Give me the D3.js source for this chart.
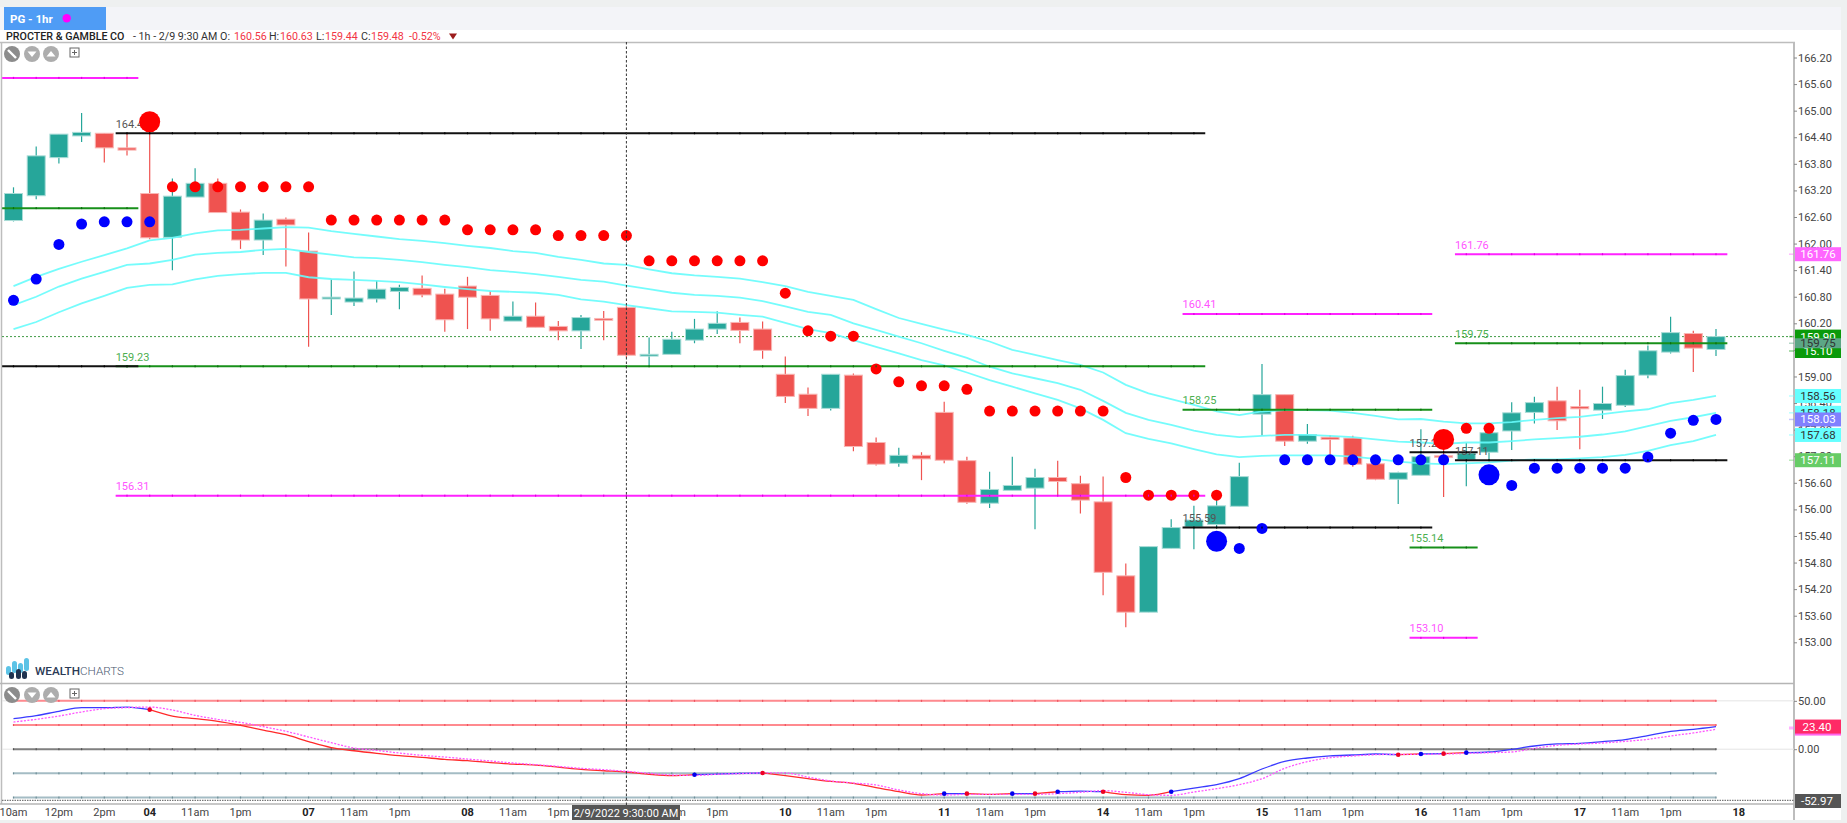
<!DOCTYPE html>
<html><head><meta charset="utf-8">
<script src="https://cdn.jsdelivr.net/npm/d3@7/dist/d3.min.js"></script>
<style>
html,body{margin:0;padding:0;background:#eef0f0;overflow:hidden}
svg{display:block}
text{font-family:Roboto,sans-serif}
</style></head><body>
<script>
const opens=[162.52,163.08,163.94,164.43,164.49,164.16,163.13,162.14,163.05,163.36,162.71,162.08,162.55,161.83,160.75,160.68,160.75,160.92,160.99,160.86,161.04,160.83,160.25,160.36,160.13,160.03,160.31,160.56,159.46,159.50,159.82,160.07,160.22,160.07,159.05,158.60,158.28,159.03,157.51,157.04,157.22,158.19,157.10,156.14,156.43,156.48,156.72,156.58,156.17,154.50,153.68,155.12,155.60,155.66,156.07,158.15,158.59,157.54,157.63,157.61,157.03,156.68,156.77,157.21,157.12,157.29,157.77,158.19,158.45,158.32,158.24,158.35,159.03,159.55,159.97,159.61];
const highs=[163.27,164.19,164.47,164.95,164.49,164.49,164.60,163.47,163.70,163.47,162.77,162.68,162.59,162.25,161.19,161.37,161.16,161.07,161.28,160.98,161.25,160.93,160.69,160.67,160.25,160.39,160.48,160.63,159.88,160.01,160.30,160.47,160.33,160.24,159.45,158.75,159.05,159.07,157.62,157.39,157.29,158.43,157.19,156.85,157.19,156.92,157.10,156.76,156.74,154.78,155.16,155.78,156.08,156.21,157.05,159.28,158.59,157.93,157.68,157.66,157.12,156.85,157.81,157.40,157.50,157.84,158.42,158.54,158.77,158.70,158.77,159.15,159.70,160.35,160.03,160.07];
const lows=[162.50,163.00,163.81,164.29,163.83,163.99,162.10,161.40,163.05,162.70,161.88,161.74,161.48,159.67,160.39,160.59,160.67,160.52,160.79,160.01,160.07,160.03,160.25,160.11,159.82,159.62,159.82,159.44,159.24,159.50,159.75,159.96,159.75,159.40,158.40,158.11,158.23,157.31,156.99,156.96,156.66,157.04,156.13,156.03,156.43,155.55,156.32,155.91,154.06,153.34,153.68,155.12,155.10,155.60,156.07,157.66,157.43,157.48,157.19,156.96,156.66,156.12,156.77,156.28,156.52,157.12,157.34,157.94,157.79,157.36,158.04,158.31,158.96,159.52,159.10,159.46];
const closes=[163.13,163.98,164.47,164.51,164.16,164.11,162.13,163.07,163.36,162.70,162.08,162.53,162.42,160.75,160.79,160.77,160.97,161.01,160.84,160.28,160.79,160.30,160.36,160.11,160.03,160.33,160.27,159.48,159.50,159.84,160.07,160.20,160.04,159.59,158.55,158.28,159.05,157.42,157.02,157.22,157.14,157.11,156.16,156.45,156.54,156.72,156.63,156.21,154.58,153.68,155.16,155.59,155.76,156.08,156.74,158.59,157.54,157.69,157.58,157.02,156.68,156.83,157.19,157.18,157.27,157.73,158.18,158.41,158.00,158.27,158.39,159.02,159.58,159.99,159.64,159.90];

const bandUpper=[161.04,161.25,161.43,161.59,161.74,161.89,162.07,162.13,162.23,162.30,162.31,162.34,162.37,162.36,162.28,162.22,162.16,162.10,162.06,162.01,161.95,161.90,161.83,161.79,161.70,161.63,161.55,161.52,161.42,161.33,161.28,161.25,161.21,161.13,161.04,160.91,160.82,160.73,160.52,160.32,160.19,160.06,159.94,159.79,159.60,159.49,159.37,159.26,159.09,158.81,158.62,158.49,158.36,158.21,158.13,158.21,158.24,158.24,158.23,158.18,158.11,158.03,158.04,157.98,157.94,157.94,157.97,158.02,158.06,158.09,158.15,158.21,158.26,158.40,158.47,158.56];
const bandMiddle=[160.61,160.80,161.03,161.21,161.36,161.52,161.55,161.63,161.75,161.79,161.81,161.86,161.88,161.81,161.75,161.69,161.67,161.63,161.58,161.52,161.47,161.40,161.36,161.31,161.25,161.18,161.14,161.05,160.97,160.89,160.84,160.82,160.78,160.70,160.58,160.46,160.39,160.20,160.05,159.90,159.75,159.58,159.42,159.22,159.07,158.96,158.85,158.70,158.45,158.18,158.02,157.91,157.78,157.68,157.63,157.66,157.68,157.68,157.66,157.63,157.58,157.53,157.51,157.48,157.51,157.51,157.54,157.58,157.61,157.64,157.69,157.76,157.88,158.00,158.08,158.18];
const bandLower=[160.07,160.23,160.45,160.65,160.82,161.00,161.07,161.08,161.19,161.27,161.31,161.34,161.34,161.24,161.20,161.18,161.16,161.13,161.08,161.02,160.97,160.93,160.91,160.89,160.84,160.74,160.69,160.61,160.54,160.47,160.46,160.44,160.39,160.35,160.21,160.07,159.98,159.82,159.67,159.52,159.37,159.25,159.09,158.92,158.77,158.62,158.47,158.28,158.02,157.72,157.59,157.49,157.36,157.24,157.18,157.21,157.22,157.22,157.22,157.19,157.14,157.08,157.04,157.02,157.04,157.06,157.10,157.13,157.13,157.15,157.18,157.23,157.32,157.45,157.54,157.68];

const redBars=[7,8,9,10,11,12,13,14,15,16,17,18,19,20,21,22,23,24,25,26,27,28,29,30,31,32,33,34,35,36,37,38,39,40,41,42,43,44,45,46,47,48,49,50,51,52,53,64,65];
const redPrices=[163.28,163.28,163.28,163.28,163.28,163.28,163.28,162.53,162.53,162.53,162.53,162.53,162.53,162.31,162.31,162.31,162.31,162.18,162.18,162.18,162.18,161.61,161.61,161.61,161.61,161.61,161.61,160.88,160.03,159.91,159.91,159.17,158.88,158.79,158.79,158.71,158.22,158.22,158.22,158.22,158.22,158.22,156.72,156.32,156.32,156.32,156.32,157.83,157.83];
const blueBars=[0,1,2,3,4,5,6,54,55,56,57,58,59,60,61,62,63,66,67,68,69,70,71,72,73,74,75];
const bluePrices=[160.72,161.20,161.98,162.44,162.49,162.49,162.49,155.12,155.57,157.12,157.12,157.12,157.12,157.12,157.12,157.12,157.12,156.54,156.93,156.93,156.93,156.93,156.93,157.18,157.72,158.01,158.03];
const bigRedBars=[6,63], bigRedPrices=[164.75,157.58];
const bigBlueBars=[53,65], bigBluePrices=[155.28,156.78];

const levelPrices=[165.74,162.80,159.23,159.23,164.49,156.31,160.41,158.25,155.59,157.29,157.11,155.14,153.10,159.75,161.76];
const levelStarts=[-0.5,-0.5,4.5,-0.5,4.5,4.5,51.5,51.5,51.5,61.5,63.5,61.5,61.5,63.5,63.5];
const levelEnds=[5.5,5.5,52.5,5.5,52.5,52.5,62.5,62.5,62.5,64.5,75.5,64.5,64.5,75.5,75.5];
const levelKinds=["m","g","g","k","k","m","m","g","k","k","k","g","m","g","m"];
const levelLabels=["","","159.23","","164.49","156.31","160.41","158.25","155.59","157.29","157.11","155.14","153.10","159.75","161.76"];

const priceTicks=[166.2,165.6,165,164.4,163.8,163.2,162.6,162,161.4,160.8,160.2,159.6,159,158.4,157.8,157.2,156.6,156,155.4,154.8,154.2,153.6,153];
const timeBars=[0,2,4,6,8,10,13,15,17,20,22,24,27,29,31,34,36,38,41,43,45,48,50,52,55,57,59,62,64,66,69,71,73,76];
const timeLabels=["10am","12pm","2pm","04","11am","1pm","07","11am","1pm","08","11am","1pm","09","11am","1pm","10","11am","1pm","11","11am","1pm","14","11am","1pm","15","11am","1pm","16","11am","1pm","17","11am","1pm","18"];
const dayLabels=["04","07","08","09","10","11","14","15","16","17","18"];

const oscMain=[31.6,34.7,39.2,43.0,43.0,43.6,40.9,34.3,31.6,28.8,24.7,19.8,15.0,7.8,1.6,-1.6,-4.3,-6.7,-8.5,-10.5,-11.9,-14.0,-15.4,-16.4,-18.5,-20.9,-22.3,-23.6,-26.0,-27.4,-26.4,-25.7,-25.0,-24.6,-27.4,-30.5,-33.3,-35.3,-39.8,-44.0,-47.4,-46.0,-46.0,-46.7,-46.0,-46.0,-44.0,-43.3,-44.0,-47.1,-47.7,-44.0,-40.2,-36.7,-30.5,-20.5,-12.6,-9.1,-7.0,-6.0,-5.0,-5.7,-5.0,-4.6,-3.6,-2.9,-0.1,3.3,5.4,6.1,7.8,9.9,14.0,18.5,20.6,23.4];
const oscSignal=[28.1,30.9,34.3,38.5,41.9,43.0,43.6,40.5,35.0,30.9,27.8,23.3,18.5,12.6,6.7,1.2,-1.2,-4.0,-6.4,-8.1,-10.2,-12.2,-14.3,-16.0,-17.8,-19.8,-21.2,-22.9,-25.0,-26.7,-27.1,-26.0,-25.3,-24.6,-24.6,-28.8,-32.9,-35.0,-37.0,-42.2,-46.0,-47.4,-46.7,-46.7,-46.7,-46.7,-46.0,-44.6,-42.9,-44.6,-47.1,-47.7,-44.3,-40.8,-36.7,-30.5,-19.8,-12.9,-8.8,-7.0,-5.7,-5.3,-5.3,-5.0,-4.3,-3.6,-2.9,0.9,4.0,5.4,6.4,8.1,10.2,13.7,16.8,20.6];
const oscCrossBars=[6,30,33,41,42,44,45,46,48,51,61,62,63,64];
const oscLevels=[50,25,0,-25,-50];
const oscLevelColors=["#ff8a8f","#ff8a8f","#808080","#a4bcc4","#a4bcc4"];
const oscLevelDots=["#ee5560","#ee5560","#555555","#6f8f98","#6f8f98"];

const W=1847,H=823;
const x=d3.scaleLinear().domain([0,75]).range([13.5,1716]);
const y=d3.scaleLinear().domain([153,166.2]).range([642.3,57.5]);
const yo=d3.scaleLinear().domain([-52.97,50]).range([800.4,700.85]);
const bars=d3.range(opens.length);
const UP="#26a69a",DOWN="#ef5350",CY="#66fcfc";
const kindColor={m:"#ff22ff",g:"#17901a",k:"#111111"};
const kindDot={m:"#e000e0",g:"#0c6b0e",k:"#000000"};
const kindText={m:"#ff55ff",g:"#4caf50",k:"#555555"};

const svg=d3.select("body").append("svg").attr("width",W).attr("height",H);
// frame
svg.append("rect").attr("width",W).attr("height",H).attr("fill","#eef0f0");
svg.append("rect").attr("x",0).attr("y",7).attr("width",1841).attr("height",23).attr("fill","#f3f4f8");
svg.append("rect").attr("x",0).attr("y",30).attr("width",1841).attr("height",790).attr("fill","#fff");
svg.append("rect").attr("x",4).attr("y",7).attr("width",102).attr("height",23).attr("fill","#4f9cf5");
svg.append("text").attr("x",10).attr("y",22.5).attr("fill","#fff").attr("font-size",11.5).attr("font-weight",700).text("PG - 1hr");
svg.append("circle").attr("cx",66.7).attr("cy",18.3).attr("r",4.2).attr("fill","#ff00ff");

// header text
const hdr=[[6,"PROCTER & GAMBLE CO","#222",500],[133,"- 1h - 2/9 9:30 AM O:","#333",400],[234,"160.56","#f23645",400],[269,"H:","#333",400],[280,"160.63","#f23645",400],[316,"L:","#333",400],[325,"159.44","#f23645",400],[361,"C:","#333",400],[371,"159.48","#f23645",400],[409,"-0.52%","#f23645",400]];
svg.append("g").selectAll("text").data(hdr).join("text").attr("x",d=>d[0]).attr("y",40).attr("font-size",10.7).attr("fill",d=>d[2]).attr("font-weight",d=>d[3]).text(d=>d[1]);
svg.append("path").attr("d","M449 33.5h8l-4 6z").attr("fill","#9c1c1c");

// frame lines
svg.append("path").attr("d","M0 42.5H1795").attr("stroke","#bdbdbd").attr("stroke-width",1.3).attr("fill","none");
svg.append("path").attr("d","M1.5 42V804").attr("stroke","#bdbdbd").attr("stroke-width",1.5);
svg.append("path").attr("d","M1794 42V820").attr("stroke","#bdbdbd").attr("stroke-width",2);
svg.append("path").attr("d","M0 683.5H1794").attr("stroke","#b5b5b5").attr("stroke-width",1.3);
svg.append("path").attr("d","M0 804H1794").attr("stroke","#b5b5b5").attr("stroke-width",1.3);

// price axis
const ax=svg.append("g").attr("transform","translate(1794,0)").call(d3.axisRight(y).tickValues(priceTicks).tickFormat(d3.format(".2f")).tickSize(3).tickPadding(1));
ax.select(".domain").remove();
ax.selectAll("line").attr("stroke","#888");
ax.selectAll("text").attr("font-size",11).attr("fill","#444").style("font-family","Roboto");

// dotted last price
svg.append("line").attr("x1",2).attr("x2",1794).attr("y1",y(closes[75])).attr("y2",y(closes[75])).attr("stroke","#3f9a45").attr("stroke-width",1).attr("stroke-dasharray","2 2");

// candles
const cg=svg.append("g");
cg.selectAll("line").data(bars).join("line")
  .attr("x1",i=>x(i)).attr("x2",i=>x(i)).attr("y1",i=>y(highs[i])).attr("y2",i=>y(lows[i]))
  .attr("stroke",i=>closes[i]>=opens[i]?UP:DOWN).attr("stroke-width",1.2);
cg.selectAll("rect").data(bars).join("rect")
  .attr("x",i=>x(i)-9).attr("width",18)
  .attr("y",i=>y(Math.max(opens[i],closes[i])))
  .attr("height",i=>Math.max(1.5,Math.abs(y(opens[i])-y(closes[i]))))
  .attr("fill",i=>closes[i]>=opens[i]?UP:DOWN)
  .attr("stroke",i=>closes[i]>=opens[i]?"#a9dcd7":"#f9b5b3").attr("stroke-width",1);

// bands
const bandLine=d3.line().x((d,i)=>x(i)).y(d=>y(d));
svg.append("g").selectAll("path").data([bandUpper,bandMiddle,bandLower]).join("path")
  .attr("d",bandLine).attr("fill","none").attr("stroke",CY).attr("stroke-opacity",.9).attr("stroke-width",1.8);

// levels
const levelIdx=d3.range(levelPrices.length);
svg.append("g").selectAll("line").data(levelIdx).join("line")
  .attr("x1",i=>x(levelStarts[i])).attr("x2",i=>x(levelEnds[i]))
  .attr("y1",i=>y(levelPrices[i])).attr("y2",i=>y(levelPrices[i]))
  .attr("stroke",i=>kindColor[levelKinds[i]]).attr("stroke-width",2);
svg.append("g").selectAll("text").data(levelIdx.filter(i=>levelLabels[i])).join("text")
  .attr("x",i=>x(levelStarts[i])).attr("y",i=>y(levelPrices[i])-9.5).attr("dy","0.35em")
  .attr("font-size",11).attr("fill",i=>kindText[levelKinds[i]]).text(i=>levelLabels[i]);

// dots
function dots(b,p,r,c){svg.append("g").selectAll("circle").data(b).join("circle")
  .attr("cx",d=>x(d)).attr("cy",(d,i)=>y(p[i])).attr("r",r).attr("fill",c);}
dots(redBars,redPrices,5.5,"#ff0000");
dots(blueBars,bluePrices,5.5,"#0000ff");
dots(bigRedBars,bigRedPrices,10.5,"#ff0000");
dots(bigBlueBars,bigBluePrices,10.5,"#0000ff");

// oscillator pane
svg.append("g").selectAll("line").data([50,0]).join("line")
  .attr("x1",2).attr("x2",1794).attr("y1",d=>yo(d)).attr("y2",d=>yo(d)).attr("stroke","#e4e4e4");
svg.append("g").selectAll("line").data(oscLevels).join("line")
  .attr("x1",x(0)).attr("x2",x(75)).attr("y1",d=>yo(d)).attr("y2",d=>yo(d))
  .attr("stroke",(d,i)=>oscLevelColors[i]).attr("stroke-width",2);
const oscT=svg.append("g");
oscLevels.forEach((l,k)=>{oscT.append("g").selectAll("rect").data(bars).join("rect")
  .attr("x",i=>x(i)-.6).attr("width",1.2).attr("y",yo(l)-1).attr("height",2).attr("fill",oscLevelDots[k]);});
const levelTicks=svg.append("g");
levelIdx.forEach(k=>{const from=Math.ceil(levelStarts[k]),to=Math.floor(levelEnds[k]);
  levelTicks.append("g").selectAll("rect").data(d3.range(from,to+1)).join("rect")
  .attr("x",i=>x(i)-.6).attr("width",1.2).attr("y",y(levelPrices[k])-1).attr("height",2)
  .attr("fill",kindDot[levelKinds[k]]);});
const oscLine=d3.line().x(i=>x(i)).y(i=>yo(oscMain[i])).curve(d3.curveMonotoneX);
const sigLine=d3.line().x((d,i)=>x(i)).y(d=>yo(d)).curve(d3.curveMonotoneX);
const cuts=[0,...oscCrossBars,75];
d3.range(cuts.length-1).forEach(k=>{
  svg.append("path").attr("d",oscLine(d3.range(cuts[k],cuts[k+1]+1))).attr("fill","none")
   .attr("stroke",k%2?"#ff2a2a":"#3a3aff").attr("stroke-width",1.3);
});
svg.append("path").attr("d",sigLine(oscSignal)).attr("fill","none").attr("stroke","#ff55ff").attr("stroke-width",1.3).attr("stroke-dasharray","2 1.5");
svg.append("g").selectAll("circle").data(oscCrossBars).join("circle")
  .attr("cx",d=>x(d)).attr("cy",d=>yo(oscMain[d])).attr("r",2.3).attr("fill",(d,i)=>i%2?"#0000ee":"#ee0022");
svg.append("line").attr("x1",2).attr("x2",1794).attr("y1",yo(-52.97)).attr("y2",yo(-52.97)).attr("stroke","#777").attr("stroke-width",1.2).attr("stroke-dasharray","1.5 1");

// pane axis
const ax2=svg.append("g").attr("transform","translate(1794,0)").call(d3.axisRight(yo).tickValues([50,0]).tickFormat(d3.format(".2f")).tickSize(3).tickPadding(1));
ax2.select(".domain").remove();ax2.selectAll("line").attr("stroke","#888");
ax2.selectAll("text").attr("font-size",11).attr("fill","#444").style("font-family","Roboto");

// time labels
svg.append("g").selectAll("text").data(timeBars).join("text")
  .attr("x",d=>x(d)).attr("y",816).attr("text-anchor","middle").attr("font-size",11)
  .attr("fill",(d,i)=>dayLabels.includes(timeLabels[i])?"#222":"#444")
  .attr("font-weight",(d,i)=>dayLabels.includes(timeLabels[i])?700:400)
  .text((d,i)=>timeLabels[i]);

// crosshair
svg.append("line").attr("x1",x(27)).attr("x2",x(27)).attr("y1",42).attr("y2",805).attr("stroke","#333").attr("stroke-width",1).attr("stroke-dasharray","2.5 2");
svg.append("rect").attr("x",572).attr("y",805).attr("width",108).attr("height",15).attr("fill","#555");
svg.append("text").attr("x",626).attr("y",816.5).attr("text-anchor","middle").attr("font-size",11).attr("fill","#fff").text("2/9/2022 9:30:00 AM");

// right value boxes
const boxes=[
 [161.76,"161.76","#ff66ff","#fff",14],[159.90,"159.90","#0a9a0a","#fff",14],[159.10,"15.10","#0a9a0a","#fff",14],
 [159.75,"159.75","#5ca686","#333",10],[158.56,"158.56","#66ffff","#333",14],[158.18,"158.18","#66ffff","#333",14],
 [158.03,"158.03","#8080ff","#fff",14],[157.68,"157.68","#66ffff","#333",14],[157.11,"157.11","#66cc66","#fff",14]];
const boxY=(b)=>b[0]===159.10?351:y(b[0]);
svg.append("g").selectAll("line").data(boxes).join("line").attr("x1",1789).attr("x2",1794).attr("y1",boxY).attr("y2",boxY).attr("stroke",b=>b[2]).attr("stroke-opacity",.45).attr("stroke-width",1.5);
const bg=svg.append("g").selectAll("g").data(boxes).join("g").attr("transform",b=>`translate(1795,${boxY(b)})`);
bg.append("rect").attr("x",0).attr("y",b=>-b[4]/2).attr("width",46).attr("height",b=>b[4]).attr("fill",b=>b[2]);
bg.append("text").attr("x",23).attr("dy","0.35em").attr("text-anchor","middle").attr("font-size",11.5).attr("fill",b=>b[3]).text(b=>b[1]);

const rb=svg.append("g");
rb.append("line").attr("x1",1789).attr("x2",1794).attr("y1",728).attr("y2",728).attr("stroke","#ff66ff").attr("stroke-opacity",.5).attr("stroke-width",3);
rb.append("rect").attr("x",1795).attr("y",yo(23.4)-6).attr("width",46).attr("height",15).attr("fill","#ff66ee");
rb.append("rect").attr("x",1795).attr("y",yo(23.4)-7).attr("width",46).attr("height",14).attr("fill","#ff2a66");
rb.append("text").attr("x",1817).attr("y",yo(23.4)).attr("dy","0.35em").attr("text-anchor","middle").attr("font-size",11.5).attr("fill","#fff").text("23.40");
rb.append("rect").attr("x",1795).attr("y",794).attr("width",46).attr("height",14).attr("fill","#555");
rb.append("text").attr("x",1817).attr("y",801).attr("dy","0.35em").attr("text-anchor","middle").attr("font-size",11.5).attr("fill","#fff").text("-52.97");

// pane controls
function controls(cy,sy){
 const g=svg.append("g");
 g.append("circle").attr("cx",12).attr("cy",cy).attr("r",8).attr("fill","#8c8c8c");
 g.append("path").attr("d",`M8 ${cy-4}L16 ${cy+4}`).attr("stroke","#fff").attr("stroke-width",2.4);
 g.append("circle").attr("cx",32).attr("cy",cy).attr("r",8).attr("fill","#adadad");
 g.append("path").attr("d",`M27.5 ${cy-2.5}h9l-4.5 5.5z`).attr("fill","#fff");
 g.append("circle").attr("cx",51).attr("cy",cy).attr("r",8).attr("fill","#adadad");
 g.append("path").attr("d",`M46.5 ${cy+2.5}h9l-4.5 -5.5z`).attr("fill","#fff");
 g.append("rect").attr("x",70).attr("y",sy-4.5).attr("width",9).attr("height",9).attr("fill","#fff").attr("stroke","#666");
 g.append("path").attr("d",`M74.5 ${sy-2.5}v5M72 ${sy}h5`).attr("stroke","#666");
}
controls(54,52.5);controls(695,693.5);

// logo
const lg=svg.append("g");
[[6,666,5,9],[12,661,5,12],[18,663,5,10],[24,658,5,13]].forEach(r=>lg.append("rect").attr("x",r[0]).attr("y",r[1]).attr("width",r[2]).attr("height",r[3]).attr("rx",2.5).attr("fill","#5cc3e6"));
[[9,672,5,7],[16,669,5,10],[22,671,5,8]].forEach(r=>lg.append("rect").attr("x",r[0]).attr("y",r[1]).attr("width",r[2]).attr("height",r[3]).attr("rx",2.5).attr("fill","#1f3350"));
const lt=svg.append("text").attr("x",35).attr("y",675).attr("font-size",11.7).attr("fill","#2b3a55");
lt.append("tspan").attr("font-weight",500).text("WEALTH");
lt.append("tspan").attr("font-weight",300).attr("fill","#4a5870").text("CHARTS");
</script>
</body></html>
